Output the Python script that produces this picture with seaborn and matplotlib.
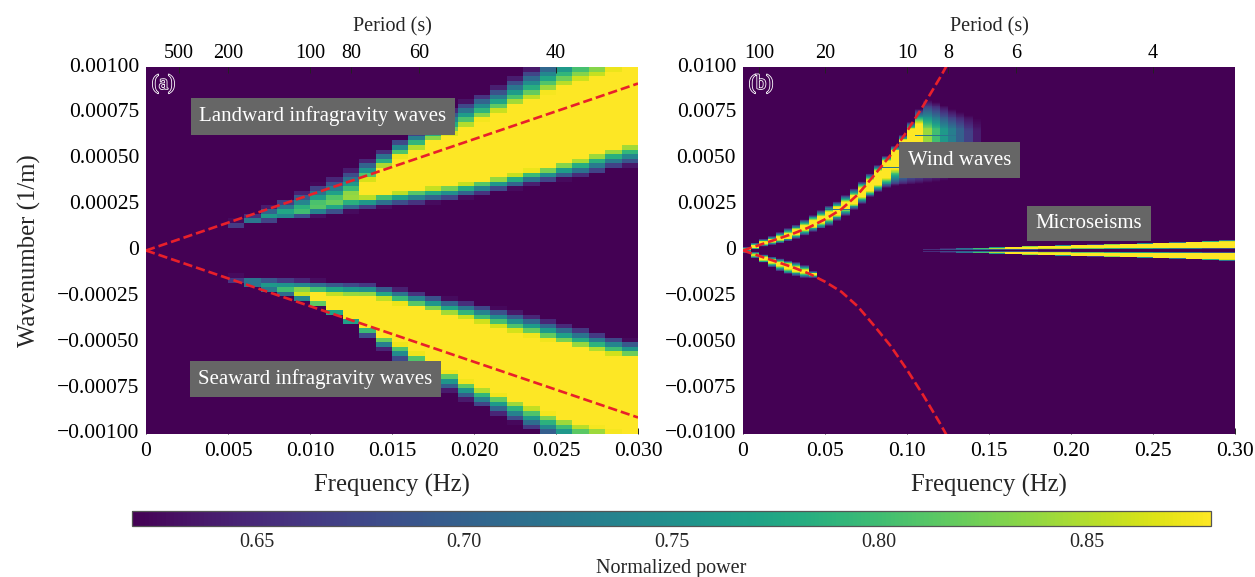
# plot.py - normalized power in frequency-wavenumber space, two panels

import numpy as np
import pandas as pd
import matplotlib
matplotlib.use("Agg")
import matplotlib.pyplot as plt
import matplotlib.patheffects as pe
import seaborn as sns

sns.set_theme(style="white")
plt.rcParams["font.family"] = ["Liberation Serif", "DejaVu Serif"]

VMIN, VMAX = 0.62, 0.88

# ---- panel (a): one entry per 0.001 Hz column, first column is 0.005-0.006 Hz
# band edges in 1e-3 1/m: outer/inner low, inner/outer high
a_first_col = 5
a_up_ol = [.13, .14, .155, .165, .175, .185, .195, .21, .225, .235, .245, .25, .26, .27, .285, .30, .32, .335, .355, .37, .385, .40, .415, .44, .455]
a_up_il = [.14, .155, .175, .195, .21, .23, .25, .28, .295, .31, .32, .335, .345, .355, .37, .385, .40, .42, .44, .455, .48, .50, .53, .555, .58]
a_up_ih = [.145, .16, .19, .21, .23, .26, .28, .31, .38, .45, .51, .55, .59, .63, .67, .71, .75, .79, .82, .86, .89, .92, .94, .98, 1.02]
a_up_oh = [.165, .20, .245, .285, .325, .365, .405, .45, .50, .55, .61, .66, .72, .78, .82, .86, .90, .95, 1.0, 1.05, 1.1, 1.15, 1.2, 1.25, 1.3]
a_up_peak = [.68, .73, .76, .78, .80, .81, .82, .84] + [.88] * 17

# seaward branch, magnitudes (sign is applied when the band is filled)
a_lo_ol = [.135, .14, .145, .15, .155, .16, .165, .17, .175, .19, .205, .225, .24, .26, .275, .29, .31, .33, .35, .375, .40, .42, .445, .465, .485]
a_lo_il = [.15, .16, .18, .20, .22, .235, .245, .25, .25, .27, .29, .31, .33, .35, .37, .395, .42, .445, .465, .49, .51, .53, .55, .57, .585]
a_lo_ih = [.17, .19, .21, .23, .25, .28, .325, .37, .42, .47, .51, .56, .61, .66, .71, .75, .785, .82, .85, .885, .915, .945, .96, .985, 1.01]
a_lo_oh = [.175, .19, .22, .245, .275, .31, .355, .41, .475, .545, .61, .66, .72, .77, .82, .86, .90, .94, .985, 1.03, 1.07, 1.11, 1.15, 1.19, 1.23]
a_lo_peak = [.66, .72, .76, .80, .86] + [.88] * 20

a_line_f = [0, 0.03]
a_line_k = [0, 0.00091]

# ---- panel (b): one entry per 0.005 Hz column, starting at 0 Hz
b_up_ol = [0, .08, .22, .3, .38, .48, .65, .82, 1.0, 1.18, 1.35, 1.6, 1.9, 2.2, 2.55, 2.9, 3.2, 3.4, 3.5, 3.55, 3.6, 3.65, 3.7, 3.75, 3.8, 3.9, 4.05, 4.3, 4.7, 5.3]
b_up_il = [.05, .15, .35, .45, .55, .68, .87, 1.1, 1.3, 1.5, 1.7, 1.95, 2.25, 2.55, 2.9, 3.25, 3.55, 3.95, 4.45, 4.85, 5.25, 5.5, 5.6, 5.6, 5.6, 5.6, 5.6, 5.7, 5.8, 5.9]
b_up_ih = [.1, .28, .47, .6, .77, .92, 1.12, 1.37, 1.62, 1.87, 2.1, 2.35, 2.65, 3.0, 3.4, 3.85, 4.35, 4.9, 5.45, 6.0, 6.6, 6.9, 6.6, 6.6, 6.6, 6.6, 6.6, 6.5, 6.5, 6.4]
b_up_oh = [.2, .42, .6, .8, 1.0, 1.2, 1.42, 1.68, 1.95, 2.2, 2.42, 2.68, 3.0, 3.38, 3.78, 4.18, 4.65, 5.15, 5.7, 6.3, 7.0, 7.7, 8.2, 8.1, 7.9, 7.7, 7.55, 7.4, 7.2, 6.9]
b_up_peak = [.88] * 22 + [.84, .80, .76, .73, .70, .67, .64, .62]

b_lens_ol = [0, .08, .22, .33, .42, .52, .65, .8, 1.1]
b_lens_il = [.05, .2, .35, .5, .62, .75, .9, 1.05, 1.25]
b_lens_ih = [.1, .3, .5, .7, .85, 1.0, 1.12, 1.25, 1.35]
b_lens_oh = [.15, .42, .68, .92, 1.12, 1.3, 1.42, 1.5, 1.5]
b_lens_peak = [.80, .86] + [.88] * 7

# microseisms: one entry per 0.01 Hz from 0.11 Hz, mirrored about k = 0
b_micro_first_col = 22
b_micro_ol = [.05, .05, .05, .05, .06, .06, .06, .07, .07, .08, .08, .08, .09, .09, .09, .10, .10, .11, .11]
b_micro_il = [.08, .085, .09, .10, .11, .12, .12, .13, .13, .14, .14, .15, .15, .15, .16, .16, .16, .17, .17]
b_micro_ih = [.1, .11, .12, .14, .16, .19, .22, .24, .26, .28, .3, .32, .34, .36, .38, .4, .43, .46, .47]
b_micro_oh = [.12, .13, .15, .17, .2, .22, .25, .27, .29, .31, .33, .35, .37, .39, .42, .44, .47, .5, .56]
b_micro_peak = [.66, .70, .74, .80, .85] + [.88] * 14

# thin dark stripes crossing the wind-wave band
b_stripe_k = [2.2, 4.5, 6.25]
b_stripe_f0 = [.05, .08, .105]
b_stripe_f1 = [.07, .10, .14]

b_line_f = [0, .01, .02, .03, .04, .05, .06, .07, .08, .09, .10, .11, .12, .125]
b_line_k = [0, .0003, .0006, .0009, .00125, .0017, .00225, .00305, .0041, .0052, .0065, .0079, .0094, .0102]

# ---- axes text
a_xticks = [0, 0.005, 0.010, 0.015, 0.020, 0.025, 0.030]
a_xlabels = ["0", "0.005", "0.010", "0.015", "0.020", "0.025", "0.030"]
a_yticks = [0.001, 0.00075, 0.0005, 0.00025, 0, -0.00025, -0.0005, -0.00075, -0.001]
a_ylabels = ["0.00100", "0.00075", "0.00050", "0.00025", "0", "\u22120.00025", "\u22120.00050", "\u22120.00075", "\u22120.00100"]
a_periods = [500, 200, 100, 80, 60, 40]

b_xticks = [0, 0.05, 0.10, 0.15, 0.20, 0.25, 0.30]
b_xlabels = ["0", "0.05", "0.10", "0.15", "0.20", "0.25", "0.30"]
b_yticks = [0.01, 0.0075, 0.005, 0.0025, 0, -0.0025, -0.005, -0.0075, -0.01]
b_ylabels = ["0.0100", "0.0075", "0.0050", "0.0025", "0", "\u22120.0025", "\u22120.0050", "\u22120.0075", "\u22120.0100"]
b_periods = [100, 20, 10, 8, 6, 4]

cbar_ticks = [0.65, 0.70, 0.75, 0.80, 0.85]


def fill_bands(grid, kcen, first_col, ol, il, ih, oh, peak, sign=1):
    # ramp up from the outer edge to the inner edge in each column, keep the max
    for i in range(len(ol)):
        vals = np.interp(sign * kcen, [ol[i], il[i] + 1e-6, ih[i] + 2e-6, oh[i] + 3e-6],
                         [VMIN, peak[i], peak[i], VMIN])
        grid[:, first_col + i] = np.maximum(grid[:, first_col + i], vals)


# panel a grid
a_kmax = 1.0
a_nrows, a_ncols = 80, 30
a_kcen = a_kmax - (np.arange(a_nrows) + 0.5) * 2 * a_kmax / a_nrows
grid_a = np.full((a_nrows, a_ncols), VMIN)
fill_bands(grid_a, a_kcen, a_first_col, a_up_ol, a_up_il, a_up_ih, a_up_oh, a_up_peak)
fill_bands(grid_a, a_kcen, a_first_col, a_lo_ol, a_lo_il, a_lo_ih, a_lo_oh, a_lo_peak, sign=-1)

# panel b grid
b_kmax = 10.0
b_nrows, b_ncols = 400, 60
b_kcen = b_kmax - (np.arange(b_nrows) + 0.5) * 2 * b_kmax / b_nrows
grid_b = np.full((b_nrows, b_ncols), VMIN)
fill_bands(grid_b, b_kcen, 0, b_up_ol, b_up_il, b_up_ih, b_up_oh, b_up_peak)
fill_bands(grid_b, b_kcen, 0, b_lens_ol, b_lens_il, b_lens_ih, b_lens_oh, b_lens_peak, sign=-1)
for s in (1, -1):
    fill_bands(grid_b, b_kcen, b_micro_first_col,
               np.repeat(b_micro_ol, 2), np.repeat(b_micro_il, 2),
               np.repeat(b_micro_ih, 2), np.repeat(b_micro_oh, 2),
               np.repeat(b_micro_peak, 2), sign=s)
for k, f0, f1 in zip(b_stripe_k, b_stripe_f0, b_stripe_f1):
    row = np.argmin(np.abs(b_kcen - k))
    c0, c1 = int(f0 / 0.005), int(f1 / 0.005)
    grid_b[row, c0:c1] = np.minimum(grid_b[row, c0:c1], 0.72)

W, H = 1255, 577
fig = plt.figure(figsize=(W / 100, H / 100), dpi=100)


def px_axes(x0, x1, y0, y1):
    return fig.add_axes([x0 / W, 1 - y1 / H, (x1 - x0) / W, (y1 - y0) / H])


ax_a = px_axes(146, 638, 67, 434)
ax_b = px_axes(743, 1235, 67, 434)
cax = px_axes(132, 1211, 511, 526)

sns.heatmap(pd.DataFrame(grid_a), ax=ax_a, cmap="viridis", vmin=VMIN, vmax=VMAX,
            cbar_ax=cax, cbar_kws={"orientation": "horizontal"})
sns.heatmap(pd.DataFrame(grid_b), ax=ax_b, cmap="viridis", vmin=VMIN, vmax=VMAX, cbar=False)

# scale helpers: physical units to heatmap cell coordinates
a_fx = lambda f: np.asarray(f) / 0.03 * a_ncols
a_ky = lambda k: (0.001 - np.asarray(k)) / 0.002 * a_nrows
b_fx = lambda f: np.asarray(f) / 0.30 * b_ncols
b_ky = lambda k: (0.01 - np.asarray(k)) / 0.02 * b_nrows


def style_panel(ax, fx, ky, xticks, xlabels, yticks, ylabels, periods):
    ax.set_xticks(fx(xticks))
    ax.set_xticklabels(xlabels, rotation=0)
    ax.set_yticks(ky(yticks))
    ax.set_yticklabels(ylabels, rotation=0)
    ax.tick_params(direction="in", length=4, width=0.7, color="#222222",
                   labelsize=15.5, labelcolor="black", pad=3)
    ax.tick_params(axis="x", pad=6)
    ax.tick_params(axis="y", pad=5)
    ax.set_xlabel("Frequency (Hz)", fontsize=17.8, labelpad=9)
    for sp in ax.spines.values():
        sp.set_visible(False)
    top = ax.twiny()
    top.set_xlim(ax.get_xlim())
    top.set_xticks(fx(1 / np.array(periods, dtype=float)))
    top.set_xticklabels([str(p) for p in periods])
    top.tick_params(direction="in", length=4, width=0.7, color="#222222",
                    labelsize=14.5, labelcolor="black", pad=3)
    top.set_xlabel("Period (s)", fontsize=14.5, labelpad=9)
    top.grid(False)
    for sp in top.spines.values():
        sp.set_visible(False)


style_panel(ax_a, a_fx, a_ky, a_xticks, a_xlabels, a_yticks, a_ylabels, a_periods)
style_panel(ax_b, b_fx, b_ky, b_xticks, b_xlabels, b_yticks, b_ylabels, b_periods)
ax_a.set_ylabel("Wavenumber (1/m)", fontsize=17.8, labelpad=11)

# red dashed theory curves
red = dict(color="#e8202a", ls=(0, (3.5, 1.5)), lw=1.9)
for s in (1, -1):
    ax_a.plot(a_fx(a_line_f), a_ky(s * np.array(a_line_k)), **red)
    ax_b.plot(b_fx(b_line_f), b_ky(s * np.array(b_line_k)), **red)

# grey annotation boxes
box = dict(facecolor="#666666", edgecolor="none", pad=6)
txt = dict(color="white", fontsize=15, ha="left", va="center", bbox=box)
ax_a.text(a_fx(0.00325), a_ky(0.00073), "Landward infragravity waves", **txt)
ax_a.text(a_fx(0.0032), a_ky(-0.00070), "Seaward infragravity waves", **txt)
ax_b.text(b_fx(0.1005), b_ky(0.00493), "Wind waves", **txt)
ax_b.text(b_fx(0.1785), b_ky(0.00148), "Microseisms", **txt)

# panel tags, white outline around dark fill
outline = [pe.withStroke(linewidth=1.2, foreground="white")]
for ax, tag in ((ax_a, "(a)"), (ax_b, "(b)")):
    ax.text(0.012, 0.953, tag, transform=ax.transAxes, fontsize=15, color="#440154",
            ha="left", va="center", path_effects=outline)

# colorbar
cb = ax_a.collections[0].colorbar
cb.set_ticks(cbar_ticks)
cb.set_ticklabels([f"{t:.2f}" for t in cbar_ticks])
cax.tick_params(direction="in", length=4, width=0.6, color="#222222", labelsize=14.5, pad=5)
cb.outline.set_visible(True)
cb.outline.set_edgecolor("#555555")
cb.outline.set_linewidth(0.9)
cb.set_label("Normalized power", fontsize=14.5, labelpad=5)

fig.savefig("out.png", dpi=100)
